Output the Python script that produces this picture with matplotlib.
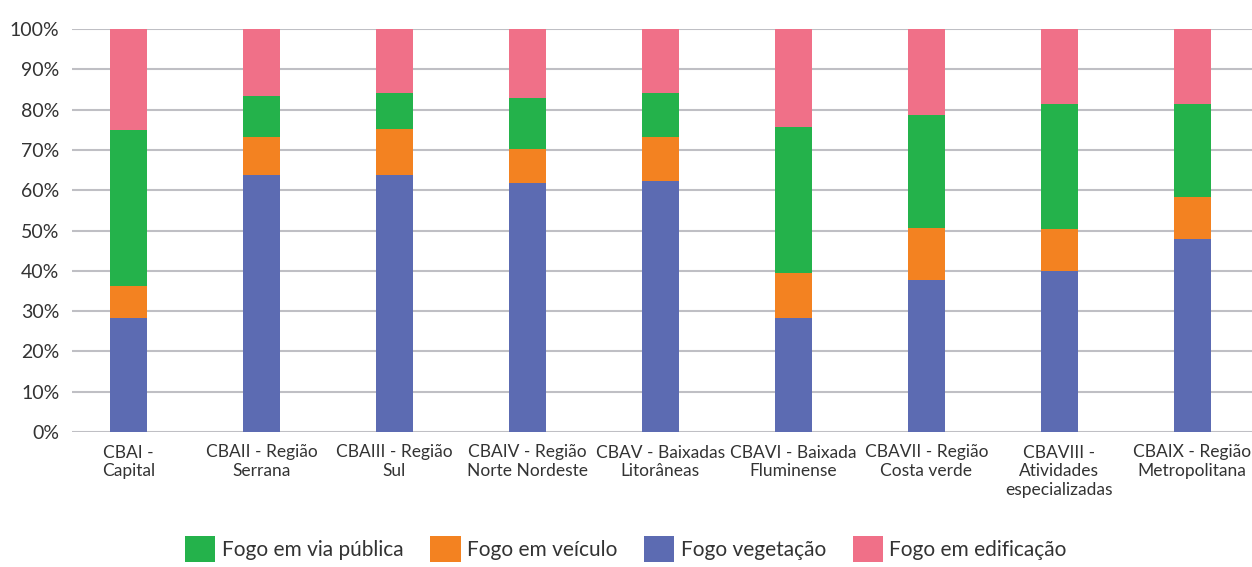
import matplotlib.pyplot as plt
import numpy as np

plt.rcParams['font.family'] = ['Lato', 'DejaVu Sans']

# categories (x labels)
categories = ['CBAI -\nCapital', 'CBAII - Região\nSerrana', 'CBAIII - Região\nSul',
              'CBAIV - Região\nNorte Nordeste', 'CBAV - Baixadas\nLitorâneas',
              'CBAVI - Baixada\nFluminense', 'CBAVII - Região\nCosta verde',
              'CBAVIII -\nAtividades\nespecializadas', 'CBAIX - Região\nMetropolitana']

# share of each fire type (%), stacked bottom -> top
vegetacao = [28.3, 63.8, 63.8, 61.8, 62.3, 28.3, 37.7, 40.0, 47.9]
veiculo = [7.9, 9.4, 11.4, 8.4, 10.9, 11.2, 12.9, 10.4, 10.4]
via_publica = [38.7, 10.2, 8.9, 12.7, 10.9, 36.2, 28.0, 31.0, 23.1]
edificacao = [25.1, 16.6, 15.9, 17.1, 15.9, 24.3, 21.4, 18.6, 18.6]

y_ticks = [0, 10, 20, 30, 40, 50, 60, 70, 80, 90, 100]
y_labels = [f'{t}%' for t in y_ticks]

green = '#24B24B'
orange = '#F38221'
blue = '#5C6BB2'
pink = '#F07088'
text_col = '#333333'

fig = plt.figure(figsize=(12.52, 5.67), dpi=100)
ax = fig.add_axes([72 / 1252, 135 / 567, 1 - 72 / 1252, 403 / 567])

x = np.arange(len(categories))
w = 0.28
b1 = np.array(vegetacao)
b2 = b1 + np.array(veiculo)
b3 = b2 + np.array(via_publica)

# normalise to 100% stacked
total = b3 + np.array(edificacao)
scale = 100 / total

h_via = ax.bar(x, np.array(via_publica) * scale, w, bottom=b2 * scale, color=green,
               label='Fogo em via pública', zorder=3)
h_vei = ax.bar(x, np.array(veiculo) * scale, w, bottom=b1 * scale, color=orange,
               label='Fogo em veículo', zorder=3)
h_veg = ax.bar(x, b1 * scale, w, color=blue, label='Fogo vegetação', zorder=3)
h_edi = ax.bar(x, np.array(edificacao) * scale, w, bottom=b3 * scale, color=pink,
               label='Fogo em edificação', zorder=3)

ax.set_xlim(-0.425, 8.45)
ax.set_ylim(0, 100)
ax.set_yticks(y_ticks)
ax.set_yticklabels(y_labels, fontsize=14, color=text_col)
ax.set_xticks(x)
ax.set_xticklabels(categories, fontsize=12.5, color=text_col, linespacing=1.2)
ax.tick_params(axis='both', length=0)
ax.tick_params(axis='x', pad=9)
ax.tick_params(axis='y', pad=9)
ax.yaxis.grid(True, color='#BFBFC4', linewidth=1.5, zorder=0)
ax.set_axisbelow(True)
for s in ax.spines.values():
    s.set_visible(False)

leg = fig.legend(handles=[h_via, h_vei, h_veg, h_edi], loc='center',
                 bbox_to_anchor=(0.5, 18 / 567), ncol=4, frameon=False,
                 fontsize=15, handlelength=1.45, handleheight=1.6,
                 handletextpad=0.3, columnspacing=1.3)
for t in leg.get_texts():
    t.set_color(text_col)

fig.savefig('out.png', dpi=100)
